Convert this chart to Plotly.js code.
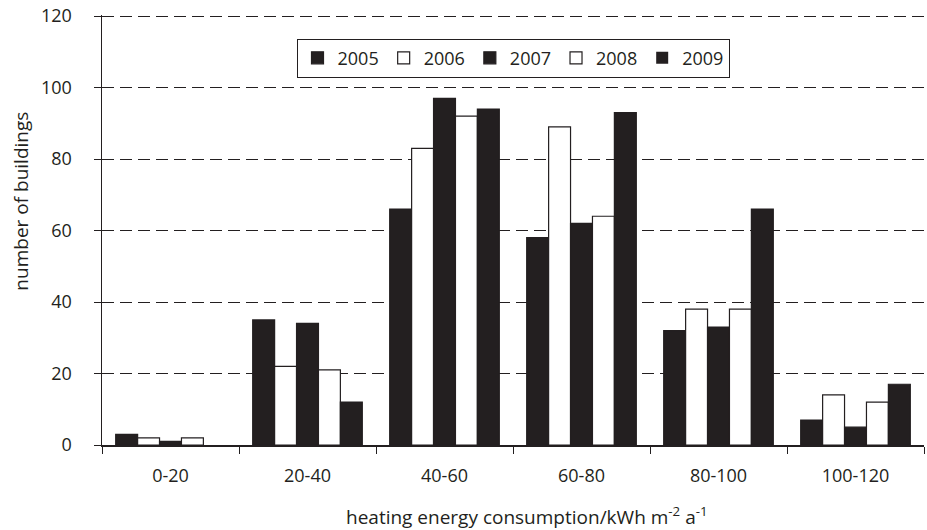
<!DOCTYPE html>
<html>
<head>
<meta charset="utf-8">
<script src="https://cdn.plot.ly/plotly-3.0.1.min.js"></script>
<style>html,body{margin:0;padding:0;background:#fff;}#chart{width:927px;height:530px;}</style>
</head>
<body>
<div id="chart"></div>
<script>
const categories = ["0-20", "20-40", "40-60", "60-80", "80-100", "100-120"];
const years = ["2005", "2006", "2007", "2008", "2009"];
const v2005 = [3, 35, 66, 58, 32, 7];
const v2006 = [2, 22, 83, 89, 38, 14];
const v2007 = [1, 34, 97, 62, 33, 5];
const v2008 = [2, 21, 92, 64, 38, 12];
const v2009 = [0, 12, 94, 93, 66, 17];
const seriesValues = [v2005, v2006, v2007, v2008, v2009];
const xTitle = "heating energy consumption/kWh m<sup>-2</sup> a<sup>-1</sup>";
const yTitle = "number of buildings";

const dark = "#231f20";
const fills = [dark, "#ffffff", dark, "#ffffff", dark];

const traces = years.map((y, i) => ({
  type: "bar",
  name: y,
  x: categories,
  y: seriesValues[i],
  marker: {
    color: fills[i],
    line: { color: dark, width: seriesValues[i].map(v => v === 0 ? 0 : 1.2) }
  }
}));

const font = "Open Sans, Noto Sans, sans-serif";
const layout = {
  width: 927, height: 530,
  margin: { l: 102, r: 3, t: 15, b: 85 },
  paper_bgcolor: "#fff", plot_bgcolor: "#fff",
  font: { family: font, size: 18, color: "#231f20" },
  barmode: "group", bargap: 0.2, bargroupgap: 0,
  showlegend: true,
  legend: {
    orientation: "h", x: 0.5, xanchor: "center", y: 0.945, yanchor: "top",
    bgcolor: "#fff", bordercolor: "#231f20", borderwidth: 1,
    font: { family: font, size: 18, color: "#231f20" },
    traceorder: "normal", itemwidth: 30
  },
  xaxis: {
    type: "category",
    showline: true, linecolor: "#231f20", linewidth: 1.5,
    ticks: "outside", tickson: "boundaries", ticklen: 7, tickcolor: "#231f20", tickwidth: 1,
    ticklabelstandoff: 14,
    showgrid: false,
    tickfont: { family: font, size: 18 },
    automargin: false
  },
  yaxis: {
    range: [0, 120.3], dtick: 20, tick0: 0,
    showline: true, linecolor: "#231f20", linewidth: 1.5,
    ticks: "outside", ticklen: 7, tickcolor: "#231f20", tickwidth: 1,
    ticklabelstandoff: 18,
    showgrid: true, gridcolor: "#231f20", gridwidth: 1, griddash: "12px,6px",
    zeroline: false,
    tickfont: { family: font, size: 18 },
    automargin: false
  },
  annotations: [
    { text: xTitle, xref: "paper", yref: "paper", x: 0.5165, y: -0.202,
      xanchor: "center", yanchor: "bottom", showarrow: false,
      font: { family: font, size: 19, color: "#231f20" } },
    { text: yTitle, xref: "paper", yref: "paper", x: -0.098, y: 0.567, textangle: -90,
      xanchor: "center", yanchor: "middle", showarrow: false,
      font: { family: font, size: 19, color: "#231f20" } }
  ]
};

Plotly.newPlot("chart", traces, layout, { displayModeBar: false, staticPlot: true });
</script>
</body>
</html>
